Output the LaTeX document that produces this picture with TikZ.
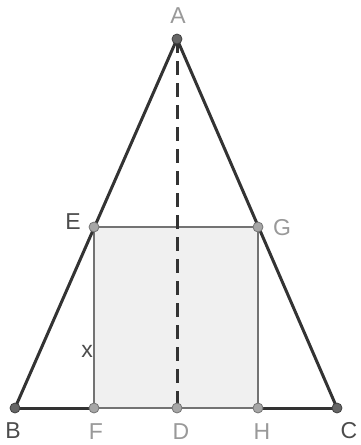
\documentclass[tikz,border=0pt]{standalone}
\usepackage{fontspec}
\setmainfont{Liberation Sans}
\begin{document}
\begin{tikzpicture}[x=1pt,y=-1pt,
  side/.style={draw=black!80,line width=3pt,line cap=round},
  rect/.style={draw=black!55,line width=2.5pt},
  darkpt/.style={circle,fill=black!60,draw=black!75,line width=0.8pt,inner sep=0pt,minimum size=10pt},
  lightpt/.style={circle,fill=black!35,draw=black!55,line width=0.8pt,inner sep=0pt,minimum size=10pt},
  darklab/.style={font=\fontsize{23}{23}\selectfont,text=black!70,inner sep=0pt},
  lightlab/.style={font=\fontsize{23}{23}\selectfont,text=black!40,inner sep=0pt}]
\useasboundingbox (0,0) rectangle (361,445);
\coordinate (A) at (177,39);
\coordinate (B) at (15,408);
\coordinate (C) at (337,408);
\coordinate (E) at (94,227);
\coordinate (G) at (258,227);
\coordinate (F) at (94,408);
\coordinate (D) at (177,408);
\coordinate (H) at (258,408);
\fill[black!6] (E) rectangle (H);
\draw[rect] (E) -- (F);
\draw[rect] (G) -- (H);
\draw[rect] (E) -- (G);
\draw[rect] (F) -- (H);
\draw[side] (B) -- (F);
\draw[side] (H) -- (C);
\draw[side] (A) -- (B);
\draw[side] (A) -- (C);
\draw[side,line cap=butt,dash pattern=on 14pt off 8pt] (A) -- (D);
\node[darkpt] (pA) at (A) {};
\node[darkpt] (pB) at (B) {};
\node[darkpt] (pC) at (C) {};
\node[lightpt] (pE) at (E) {};
\node[lightpt] (pG) at (G) {};
\node[lightpt] (pF) at (F) {};
\node[lightpt] (pD) at (D) {};
\node[lightpt] (pH) at (H) {};
\node[lightlab] (lA) at (178,16) {A};
\node[darklab] (lE) at (73,222) {E};
\node[lightlab] (lG) at (282,228) {G};
\node[darklab] (lB) at (13,431) {B};
\node[lightlab] (lF) at (96,432) {F};
\node[lightlab] (lD) at (181,432) {D};
\node[lightlab] (lH) at (262,432) {H};
\node[darklab] (lC) at (349,431) {C};
\node[darklab] (lx) at (87,351) {x};
\end{tikzpicture}
\end{document}
